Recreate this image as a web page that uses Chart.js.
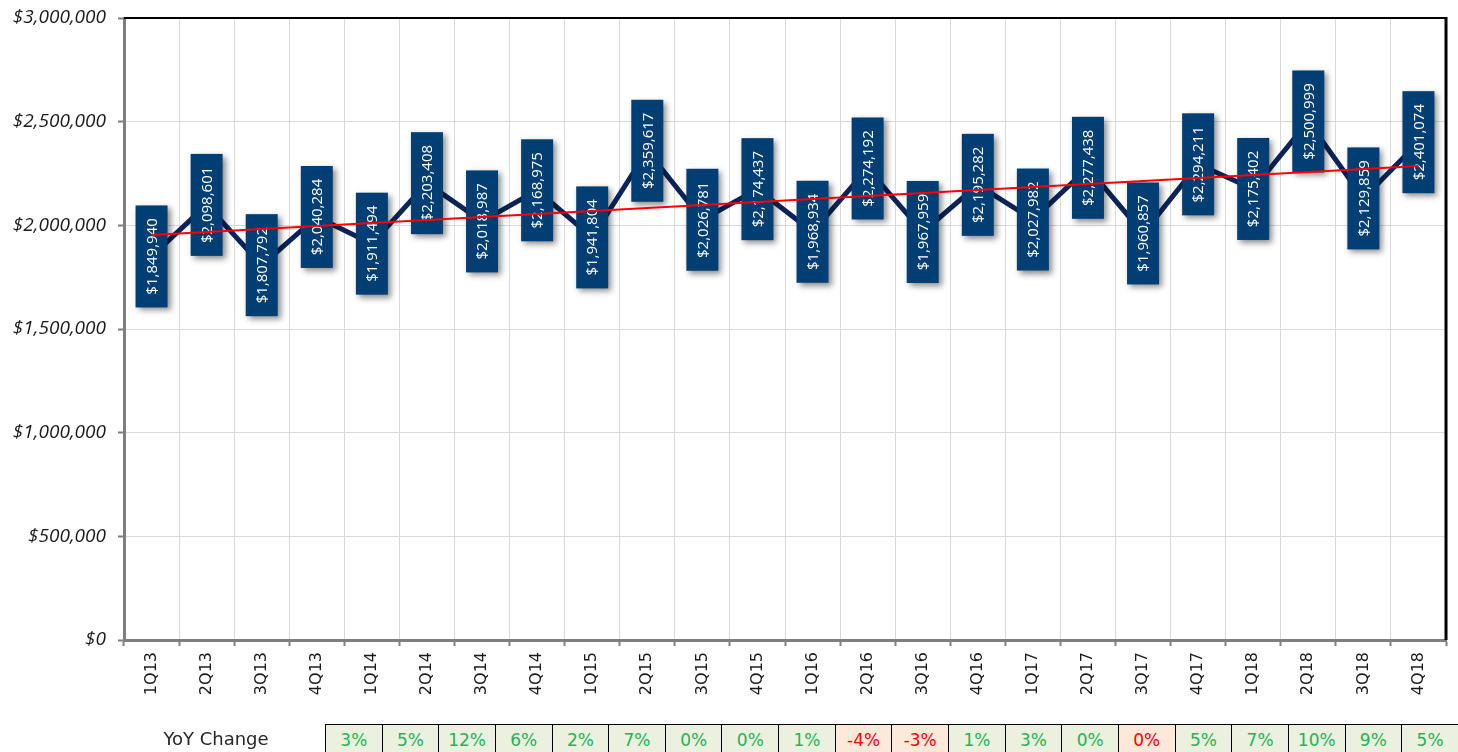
<!DOCTYPE html>
<html>
<head>
<meta charset="utf-8">
<script src="https://cdn.jsdelivr.net/npm/chart.js@4/dist/chart.umd.min.js"></script>
<style>
  html, body { margin: 0; padding: 0; background: #fff; }
  #wrap { position: relative; width: 1458px; height: 752px; overflow: hidden; }
  #chart { position: absolute; left: 0; top: 0; }
  #yoyLabel { position: absolute; left: 120px; width: 192px; top: 728px; text-align: center;
    font-family: "DejaVu Sans", sans-serif; font-size: 18px; color: #262626; }
  #yoy { position: absolute; left: 325px; top: 724px; border-collapse: collapse; table-layout: fixed; width: 1134px; }
  #yoy td { height: 34px; border: 1px solid #000; text-align: center; vertical-align: top;
    padding: 5px 0 0 0; font-family: "DejaVu Sans", sans-serif; font-size: 17px; box-sizing: border-box; }
  #yoy td.up { background: #EBF1DE; color: #22B457; }
  #yoy td.down { background: #FDE9D9; color: #FF0000; }
</style>
</head>
<body>
<div id="wrap">
  <canvas id="chart" width="1458" height="752"></canvas>
  <div id="yoyLabel">YoY Change</div>
  <table id="yoy"><tr id="yoyRow"></tr></table>
</div>
<script>
const categories = ['1Q13','2Q13','3Q13','4Q13','1Q14','2Q14','3Q14','4Q14','1Q15','2Q15','3Q15','4Q15',
                    '1Q16','2Q16','3Q16','4Q16','1Q17','2Q17','3Q17','4Q17','1Q18','2Q18','3Q18','4Q18'];
const revenue = [1849940, 2098601, 1807792, 2040284, 1911494, 2203408, 2018987, 2168975,
                 1941804, 2359617, 2026781, 2174437, 1968934, 2274192, 1967959, 2195282,
                 2027982, 2277438, 1960857, 2294211, 2175402, 2500999, 2129859, 2401074];
const trendStart = 1953000;
const trendEnd = 2286000;
const yTicks = [0, 500000, 1000000, 1500000, 2000000, 2500000, 3000000];
const yoyText = ['3%','5%','12%','6%','2%','7%','0%','0%','1%','-4%','-3%','1%','3%','0%','0%','5%','7%','10%','9%','5%'];
const yoyDir  = ['up','up','up','up','up','up','up','up','up','down','down','up','up','up','down','up','up','up','up','up'];

const row = document.getElementById('yoyRow');
yoyText.forEach((t, i) => {
  const td = document.createElement('td');
  td.textContent = t;
  td.className = yoyDir[i];
  row.appendChild(td);
});

const trendData = categories.map((c, i) => i === 0 ? trendStart : (i === categories.length - 1 ? trendEnd : null));
const fmt = v => '$' + v.toLocaleString('en-US');

const labelBoxes = {
  id: 'labelBoxes',
  afterDatasetDraw(chart, args) {
    if (args.index !== 0) return;
    const ctx = chart.ctx;
    const meta = args.meta;
    ctx.save();
    meta.data.forEach((pt, i) => {
      const w = 32, h = 102;
      ctx.save();
      ctx.shadowColor = 'rgba(0,0,0,0.45)';
      ctx.shadowBlur = 6;
      ctx.shadowOffsetX = 3;
      ctx.shadowOffsetY = 3;
      ctx.fillStyle = '#003E74';
      ctx.fillRect(pt.x - w / 2, pt.y - h / 2, w, h);
      ctx.restore();
      ctx.save();
      ctx.translate(pt.x, pt.y);
      ctx.rotate(-Math.PI / 2);
      ctx.fillStyle = '#ffffff';
      ctx.font = '15px "Open Sans", sans-serif';
      ctx.textAlign = 'center';
      ctx.textBaseline = 'middle';
      ctx.fillText(fmt(revenue[i]), 0, 1);
      ctx.restore();
    });
    ctx.restore();
  }
};

const frame = {
  id: 'frame',
  afterDatasetsDraw(chart) {
    const { ctx, chartArea: a } = chart;
    ctx.save();
    ctx.strokeStyle = '#000';
    ctx.lineWidth = 2;
    ctx.beginPath();
    ctx.moveTo(a.left, a.top);
    ctx.lineTo(a.right, a.top);
    ctx.stroke();
    ctx.lineWidth = 3;
    ctx.beginPath();
    ctx.moveTo(a.right, a.top - 1);
    ctx.lineTo(a.right, a.bottom);
    ctx.stroke();
    ctx.restore();
  }
};

new Chart(document.getElementById('chart'), {
  type: 'line',
  data: {
    labels: categories,
    datasets: [
      {
        data: revenue,
        borderColor: '#0B2358',
        borderWidth: 5,
        pointRadius: 0,
        tension: 0,
        order: 2
      },
      {
        data: trendData,
        borderColor: '#FF0000',
        borderWidth: 2,
        pointRadius: 0,
        spanGaps: true,
        tension: 0,
        order: 1
      }
    ]
  },
  options: {
    responsive: false,
    animation: false,
    events: [],
    layout: { padding: { top: 18, right: 12, left: 0, bottom: 0 } },
    plugins: { legend: { display: false }, tooltip: { enabled: false } },
    scales: {
      x: {
        offset: true,
        grid: { offset: true, color: '#D9D9D9', lineWidth: 1, tickColor: '#7F7F7F', tickLength: 6, tickWidth: 2 },
        border: { color: '#7F7F7F', width: 3 },
        ticks: {
          autoSkip: false, maxRotation: 90, minRotation: 90, padding: 6,
          color: '#1A1A1A', font: { family: '"DejaVu Sans", sans-serif', size: 16 }
        },
        afterFit(s) { s.height = 112; s.paddingLeft = 0; s.paddingRight = 0; }
      },
      y: {
        min: 0, max: 3000000,
        afterBuildTicks(s) { s.ticks = yTicks.map(v => ({ value: v })); },
        grid: { color: '#D9D9D9', lineWidth: 1, tickColor: '#7F7F7F', tickLength: 6, tickWidth: 2 },
        border: { color: '#7F7F7F', width: 3 },
        ticks: {
          padding: 12, color: '#1A1A1A',
          font: { family: '"Open Sans", sans-serif', size: 19, style: 'italic' },
          callback: v => fmt(v)
        },
        afterFit(s) { s.width = 124; s.paddingTop = 0; s.paddingBottom = 0; }
      }
    }
  },
  plugins: [labelBoxes, frame]
});
</script>
</body>
</html>
